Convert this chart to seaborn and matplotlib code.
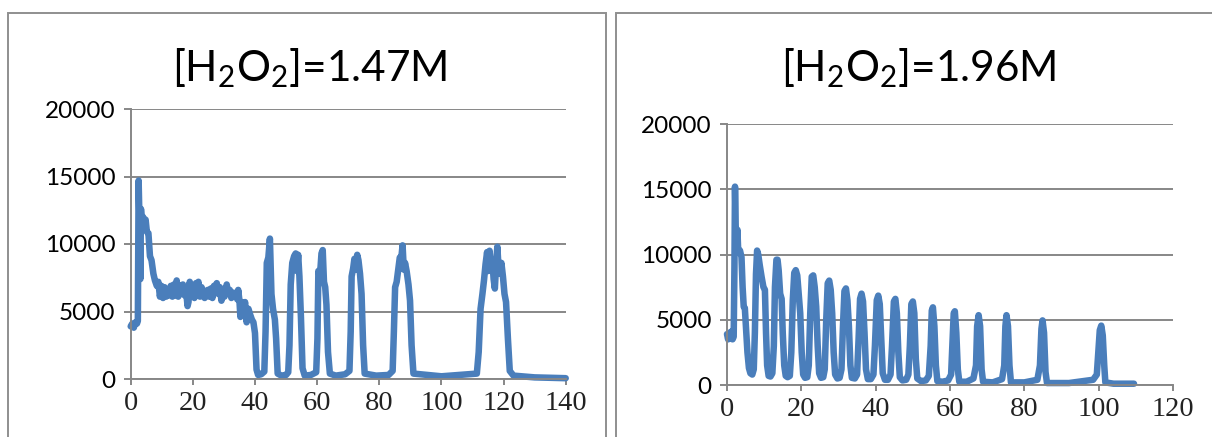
import matplotlib
matplotlib.use("Agg")
import matplotlib.pyplot as plt
import seaborn as sns
import pandas as pd
from matplotlib.patches import Rectangle

# ---------------- data ----------------
left_title = r"[H$_2$O$_2$]=1.47M"
right_title = r"[H$_2$O$_2$]=1.96M"

y_ticks = [0, 5000, 10000, 15000, 20000]
left_x_ticks = [0, 20, 40, 60, 80, 100, 120, 140]
right_x_ticks = [0, 20, 40, 60, 80, 100, 120]

# (time, signal) pairs, [H2O2] = 1.47 M
left_points = [
    (0.0, 3900), (0.5, 4100), (1.0, 3800), (1.5, 4200), (2.0, 4100),
    (2.3, 4300), (2.45, 10500), (2.55, 14700), (2.8, 12000), (3.1, 7400),
    (3.3, 12600), (3.6, 11700), (4.0, 12000), (4.4, 11300), (4.8, 11800),
    (5.2, 10900), (5.7, 10800), (6.2, 9100), (6.7, 8800), (7.3, 7800),
    (7.8, 7300), (8.4, 6900), (8.9, 7200), (9.4, 6100), (9.9, 6900),
    (10.4, 6000), (10.9, 6800), (11.4, 6100), (11.9, 6600), (12.4, 6200),
    (12.9, 6900), (13.4, 6100), (13.9, 7000), (14.4, 6200), (14.8, 7300),
    (15.3, 6100), (15.8, 6900), (16.3, 6300), (16.8, 7000), (17.3, 6200),
    (17.8, 6600), (18.3, 5400), (18.6, 5700), (19.0, 7200), (19.5, 6300),
    (20.0, 6900), (20.5, 6000), (21.0, 7100), (21.5, 6400), (21.8, 7200),
    (22.3, 6100), (22.8, 6800), (23.3, 6500), (23.8, 6000), (24.3, 6300),
    (24.8, 6600), (25.3, 6100), (25.8, 6700), (26.3, 6000), (26.8, 6900),
    (27.3, 6400), (27.7, 7100), (28.2, 6300), (28.7, 6800), (29.2, 5800),
    (29.7, 6500), (30.2, 6100), (30.6, 6700), (30.9, 7000), (31.4, 6300),
    (31.9, 6600), (32.4, 6000), (32.9, 6400), (33.4, 6100), (33.9, 6400),
    (34.3, 5900), (34.6, 6600), (35.0, 5800), (35.3, 4600), (35.8, 5700),
    (36.3, 4800), (36.8, 5700), (37.3, 4200), (37.9, 5200), (38.4, 4800),
    (39.0, 4400), (39.5, 4200), (40.0, 3400), (40.5, 700), (41.0, 300),
    (42.0, 350), (43.0, 550), (43.4, 3500), (43.8, 8600), (44.3, 9000),
    (44.8, 10400), (45.3, 6300), (45.8, 5200), (46.4, 4400), (46.8, 3000),
    (47.3, 400), (48.5, 250), (50.0, 300), (50.7, 500), (51.1, 2500),
    (51.5, 7000), (52.0, 8600), (52.6, 9100), (53.1, 9300), (53.5, 8000),
    (53.9, 9200), (54.3, 7600), (54.8, 4500), (55.3, 800), (56.0, 250),
    (58.0, 300), (59.7, 500), (60.1, 3000), (60.4, 8000), (60.9, 7600),
    (61.4, 9300), (61.8, 9550), (62.2, 7200), (62.6, 6800), (63.0, 5500),
    (63.5, 2000), (64.1, 400), (66.0, 250), (69.0, 350), (70.4, 600),
    (70.8, 3500), (71.1, 7600), (71.6, 8200), (72.0, 8900), (72.4, 8100),
    (72.9, 9200), (73.3, 8800), (73.8, 7800), (74.3, 6300), (74.8, 2500),
    (75.3, 400), (79.0, 250), (83.0, 300), (84.3, 600), (84.7, 3500),
    (85.1, 6800), (85.6, 7200), (86.1, 8100), (86.6, 9000), (87.1, 9000),
    (87.5, 9900), (87.9, 8100), (88.3, 8600), (88.8, 8000), (89.4, 7000),
    (89.9, 5800), (90.4, 2500), (91.0, 400), (100.0, 200), (111.4, 400),
    (112.0, 2000), (112.6, 5200), (113.2, 6300), (113.7, 7300), (114.2, 8500),
    (114.7, 9400), (115.1, 8000), (115.5, 9500), (116.0, 8200), (116.4, 8800),
    (116.8, 7400), (117.2, 6700), (117.6, 8500), (118.0, 9800), (118.4, 8200),
    (118.8, 7800), (119.3, 8600), (119.8, 7600), (120.3, 6300), (120.8, 5700),
    (121.4, 3000), (122.0, 600), (123.2, 250), (130.0, 120), (140.0, 60),
]

# (time, signal) pairs, [H2O2] = 1.96 M
right_points = [
    (0.0, 3900), (0.3, 3500), (0.6, 4000), (0.9, 3600), (1.2, 4100),
    (1.5, 3500), (1.8, 3700), (2.0, 9000), (2.15, 15200), (2.35, 12000),
    (2.6, 10500), (2.8, 11900), (3.0, 10400), (3.5, 10300), (3.9, 9800),
    (4.2, 7500), (4.5, 6000), (4.8, 5900), (5.1, 4500), (5.5, 2500),
    (5.9, 1300), (6.3, 900), (6.8, 800), (7.2, 1200), (7.5, 4000),
    (7.8, 8500), (8.1, 10300), (8.4, 10000), (8.8, 9200), (9.3, 8300),
    (9.8, 7500), (10.2, 7300), (10.5, 4000), (10.8, 1500), (11.2, 700),
    (11.7, 650), (12.2, 900), (12.6, 3000), (12.9, 7500), (13.3, 9600),
    (13.6, 9600), (13.9, 8800), (14.3, 7000), (14.7, 6600), (15.0, 4000),
    (15.4, 1500), (15.8, 700), (16.3, 600), (16.9, 700), (17.3, 2500),
    (17.7, 6500), (18.1, 8600), (18.5, 8800), (18.9, 8400), (19.3, 7000),
    (19.7, 5500), (20.1, 2500), (20.5, 800), (21.0, 550), (21.6, 600),
    (22.0, 1500), (22.4, 5500), (22.8, 8300), (23.2, 8400), (23.6, 7500),
    (24.0, 6000), (24.4, 3000), (24.8, 900), (25.3, 550), (25.9, 600),
    (26.3, 1200), (26.7, 5000), (27.1, 7800), (27.5, 8000), (27.9, 7300),
    (28.3, 5500), (28.7, 2500), (29.1, 800), (29.7, 500), (30.3, 550),
    (30.8, 1200), (31.2, 4500), (31.6, 7200), (32.0, 7400), (32.4, 6500),
    (32.8, 4500), (33.2, 1500), (33.6, 550), (34.4, 500), (35.0, 800),
    (35.4, 3500), (35.8, 6600), (36.2, 7000), (36.6, 6400), (37.0, 4000),
    (37.4, 1200), (37.9, 450), (38.7, 450), (39.4, 800), (39.8, 3000),
    (40.3, 6500), (40.7, 6850), (41.1, 6200), (41.5, 3500), (41.9, 900),
    (42.5, 400), (43.3, 400), (44.0, 800), (44.4, 3000), (44.9, 6400),
    (45.3, 6600), (45.7, 5500), (46.1, 2500), (46.5, 600), (47.2, 350),
    (48.2, 400), (48.8, 800), (49.2, 3000), (49.6, 6200), (50.0, 6400),
    (50.4, 5500), (50.8, 2000), (51.2, 500), (52.2, 300), (53.5, 350),
    (54.3, 700), (54.8, 3000), (55.1, 5700), (55.4, 5950), (55.8, 4500),
    (56.2, 1500), (56.6, 300), (58.0, 250), (59.5, 350), (60.3, 800),
    (60.7, 3500), (61.0, 5500), (61.3, 5650), (61.7, 4000), (62.1, 1200),
    (62.5, 250), (64.5, 250), (66.3, 500), (67.0, 1500), (67.3, 4500),
    (67.7, 5350), (68.1, 4500), (68.5, 1200), (68.9, 250), (71.5, 200),
    (74.0, 450), (74.6, 1500), (74.9, 4500), (75.2, 5350), (75.6, 4500),
    (76.0, 1500), (76.4, 200), (80.0, 200), (83.5, 400), (84.2, 1500),
    (84.6, 4300), (84.9, 4950), (85.3, 4000), (85.7, 1000), (86.1, 150),
    (92.0, 150), (98.5, 400), (99.5, 800), (99.9, 2500), (100.3, 4200),
    (100.7, 4550), (101.1, 3800), (101.5, 1500), (101.8, 200), (104.0, 100),
    (109.5, 100),
]

# ---------------- style ----------------
sns.set_theme(style="white")
plt.rcParams["font.family"] = ["Lato", "DejaVu Sans"]
plt.rcParams["mathtext.default"] = "regular"

LINE_C = "#4A7EBB"
GRID_C = "#878787"
FRAME_C = "#8f8f8f"
W, H = 1212, 437

fig = plt.figure(figsize=(W / 100, H / 100), dpi=100)
fig.patch.set_facecolor("white")


def rect(x0, x1, ytop, ybot):
    return [x0 / W, 1 - ybot / H, (x1 - x0) / W, (ybot - ytop) / H]


ax1 = fig.add_axes(rect(130.7, 565.7, 109, 379))
ax2 = fig.add_axes(rect(727, 1173, 124, 385))

# panel frames
fig.add_artist(Rectangle((8 / W, -0.2), (606 - 8) / W, 1.2 - 13 / H,
                         transform=fig.transFigure, fill=False,
                         ec=FRAME_C, lw=1.4))
fig.add_artist(Rectangle((616 / W, -0.2), 1.0, 1.2 - 13 / H,
                         transform=fig.transFigure, fill=False,
                         ec=FRAME_C, lw=1.4))

panels = [
    (ax1, left_points, left_x_ticks, (0, 140), left_title, 310),
    (ax2, right_points, right_x_ticks, (0, 120), right_title, 919),
]

for ax, pts, xt, xlim, title, tx in panels:
    df = pd.DataFrame(pts, columns=["time", "signal"])
    sns.lineplot(data=df, x="time", y="signal", ax=ax, color=LINE_C,
                 lw=4.7, sort=False, estimator=None)
    for ln in ax.lines:
        ln.set_clip_on(False)
        ln.set_solid_joinstyle("round")
        ln.set_solid_capstyle("round")
    ax.set_xlim(*xlim)
    ax.set_ylim(0, 20000)
    ax.set_xticks(xt)
    ax.set_yticks(y_ticks)
    ax.set_xticklabels([str(v) for v in xt])
    ax.set_yticklabels([str(v) for v in y_ticks])
    ax.set_xlabel("")
    ax.set_ylabel("")
    ax.set_facecolor("white")
    ax.grid(axis="y", color=GRID_C, lw=1.4)
    ax.grid(axis="x", visible=False)
    ax.set_axisbelow(True)
    for side in ("top", "right"):
        ax.spines[side].set_visible(False)
    for side in ("left", "bottom"):
        ax.spines[side].set_visible(True)
        ax.spines[side].set_color(GRID_C)
        ax.spines[side].set_linewidth(1.4)
    ax.tick_params(axis="y", left=True, direction="out", length=5,
                   width=1.4, color=GRID_C, pad=6, labelsize=17.5,
                   labelcolor="black")
    ax.tick_params(axis="x", bottom=True, direction="out", length=4,
                   width=1.4, color=GRID_C, pad=5, labelsize=20.5,
                   labelcolor="#222222")
    for lab in ax.get_xticklabels():
        lab.set_fontfamily(["Liberation Serif", "DejaVu Serif"])
    fig.text(tx / W, 1 - 68 / H, title, ha="center", va="center",
             fontsize=30.5, color="black")

fig.savefig("out.png", dpi=100, facecolor="white")
